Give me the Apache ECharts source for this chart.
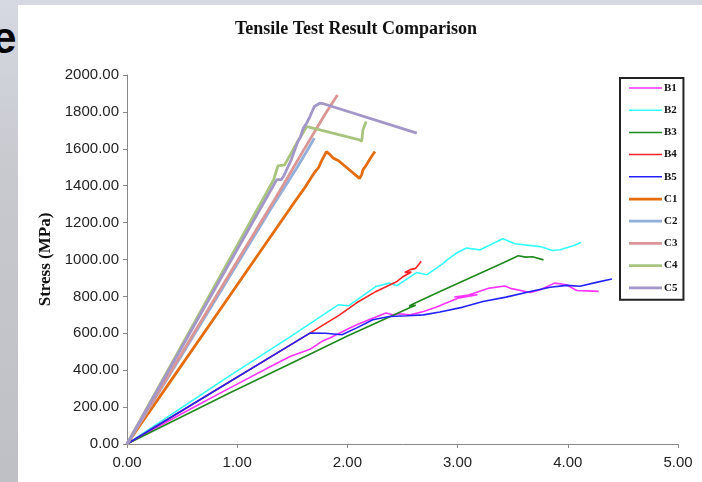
<!DOCTYPE html>
<html><head><meta charset="utf-8">
<script src="https://cdn.jsdelivr.net/npm/echarts@6/dist/echarts.min.js"></script>
<style>
html,body{margin:0;padding:0;width:702px;height:482px;overflow:hidden;}
body{background:linear-gradient(180deg,#d6d9e2 0%,#c8c9cf 35%,#bfc0c5 100%);position:relative;}
#paper{position:absolute;left:18px;top:5px;width:684px;height:477px;background:#fff;}
#e{position:absolute;left:-8px;top:16px;font-family:"Liberation Sans",sans-serif;font-weight:bold;font-size:44px;line-height:44px;color:#000;}
#chart{position:absolute;left:0;top:0;width:702px;height:482px;}
</style></head>
<body>
<div id="e">e</div>
<div id="paper"></div>
<div id="chart"></div>
<script>
// ---- data (strain, stress MPa) ----
const seriesNames = ['B1','B2','B3','B4','B5','C1','C2','C3','C4','C5'];
const b1 = [[0,0],[0.5,165],[0.93,303],[1.39,447],[1.48,474],[1.66,513],[1.78,560],[1.84,575],[1.99,619],[2.10,650],[2.23,682],[2.35,710],[2.41,700],[2.47,706],[2.57,700],[2.69,718],[2.81,742],[2.93,772],[3.00,790],[3.18,809],[2.97,797],[3.10,808],[3.29,845],[3.43,856],[3.49,842],[3.66,821],[3.75,836],[3.88,872],[3.99,863],[4.08,832],[4.18,830],[4.28,827]];
const b2 = [[0,0],[0.92,365],[1.48,581],[1.92,755],[2.01,749],[2.26,854],[2.38,872],[2.45,858],[2.63,930],[2.72,917],[2.86,975],[2.90,995],[2.99,1035],[3.08,1062],[3.20,1052],[3.41,1112],[3.52,1085],[3.75,1070],[3.86,1049],[3.93,1053],[4.05,1074],[4.12,1092]];
const b3 = [[0,0],[0.93,276],[1.5,440],[2.0,585],[2.57,740],[2.62,752],[2.56,748],[2.60,760],[2.84,827],[3.14,908],[3.44,989],[3.55,1020],[3.62,1013],[3.68,1015],[3.78,998]];
const b4 = [[0,0],[0.8,290],[1.66,601],[1.93,700],[2.08,764],[2.26,827],[2.45,881],[2.50,905],[2.58,932],[2.52,930],[2.57,945],[2.62,952],[2.67,990]];
const b5 = [[0,0],[0.8,290],[1.66,601],[1.80,600],[1.95,592],[2.08,628],[2.23,673],[2.38,691],[2.54,695],[2.69,700],[2.84,715],[3.05,742],[3.23,772],[3.44,796],[3.66,827],[3.84,850],[3.99,860],[4.11,855],[4.26,876],[4.40,894]];
const c1 = [[0,0],[0.4,345],[0.8,690],[1.2,1035],[1.53,1320],[1.62,1395],[1.70,1470],[1.74,1500],[1.77,1540],[1.81,1585],[1.84,1570],[1.87,1550],[1.92,1535],[2.11,1440],[2.13,1460],[2.14,1485],[2.17,1510],[2.21,1550],[2.25,1585]];
const c2 = [[0,0],[0.5,485],[1.0,975],[1.3,1270],[1.45,1410],[1.55,1505],[1.63,1585],[1.70,1658]];
const c3 = [[0,0],[0.5,495],[1.0,990],[1.35,1335],[1.6,1590],[1.80,1790],[1.91,1892]];
const c4 = [[0,0],[0.5,538],[1.0,1076],[1.33,1431],[1.37,1508],[1.43,1513],[1.54,1631],[1.63,1720],[1.66,1716],[2.11,1648],[2.13,1640],[2.14,1700],[2.17,1748]];
const c5 = [[0,0],[0.5,527],[1.0,1054],[1.36,1433],[1.40,1433],[1.42,1450],[1.49,1540],[1.55,1639],[1.57,1658],[1.60,1712],[1.63,1739],[1.66,1775],[1.70,1829],[1.75,1847],[1.79,1843],[2.63,1685]];
const allData = [b1,b2,b3,b4,b5,c1,c2,c3,c4,c5];
const colors = ['#ff33ff','#33ffff','#1e8a1e','#ff2222','#2222ff','#e46c0a','#92aedb','#d99694','#a9c47f','#a396c8'];
const widths = [1.6,1.6,1.6,1.6,1.6,2.8,2.8,2.8,2.8,2.8];

const chart = echarts.init(document.getElementById('chart'), null, {renderer:'canvas'});
const fmt = v => v.toFixed(2);
chart.setOption({
  animation:false,
  backgroundColor:'transparent',
  graphic:[{type:'text', x:356, y:29, style:{text:'Tensile Test Result Comparison', font:'bold 18px "Liberation Serif"', fill:'#111', textAlign:'center', textVerticalAlign:'middle'}}],
  grid:{left:127, right:24, top:75, bottom:38},
  xAxis:{type:'value', min:0, max:5, interval:1,
    axisLine:{lineStyle:{color:'#888',width:1}}, axisTick:{show:true,length:4,lineStyle:{color:'#888'}},
    splitLine:{show:false},
    axisLabel:{formatter:fmt, color:'#222', fontFamily:'Liberation Sans', fontSize:15, margin:11}},
  yAxis:{type:'value', min:0, max:2000, interval:200,
    name:'Stress (MPa)', nameLocation:'middle', nameGap:72, nameRotate:90,
    nameTextStyle:{fontFamily:'Liberation Serif', fontWeight:'bold', fontSize:17, color:'#111'},
    axisLine:{show:true,lineStyle:{color:'#888',width:1}}, axisTick:{show:true,length:4,lineStyle:{color:'#888'}},
    splitLine:{show:false},
    axisLabel:{formatter:fmt, color:'#222', fontFamily:'Liberation Sans', fontSize:15, margin:8}},
  legend:{orient:'vertical', left:620, top:78, itemWidth:33, itemHeight:14, itemGap:8.2,
    padding:[3,6,5,9], borderColor:'#222', borderWidth:2, backgroundColor:'#fff',
    data:seriesNames.map((n,i)=>({name:n, icon: i<5 ? 'path://M0,0H66V3H0Z' : 'path://M0,0H36V3H0Z', itemStyle:{color:colors[i]}})),
    textStyle:{fontFamily:'Liberation Serif', fontWeight:'bold', fontSize:11, lineHeight:14, color:'#111', padding:[0,0,0,-3]}},
  series: seriesNames.map((n,i)=>({
    name:n, type:'line', data:allData[i], symbol:'none', smooth:false,
    lineStyle:{color:colors[i], width:widths[i]}, itemStyle:{color:colors[i]}
  }))
});
</script>
</body></html>
